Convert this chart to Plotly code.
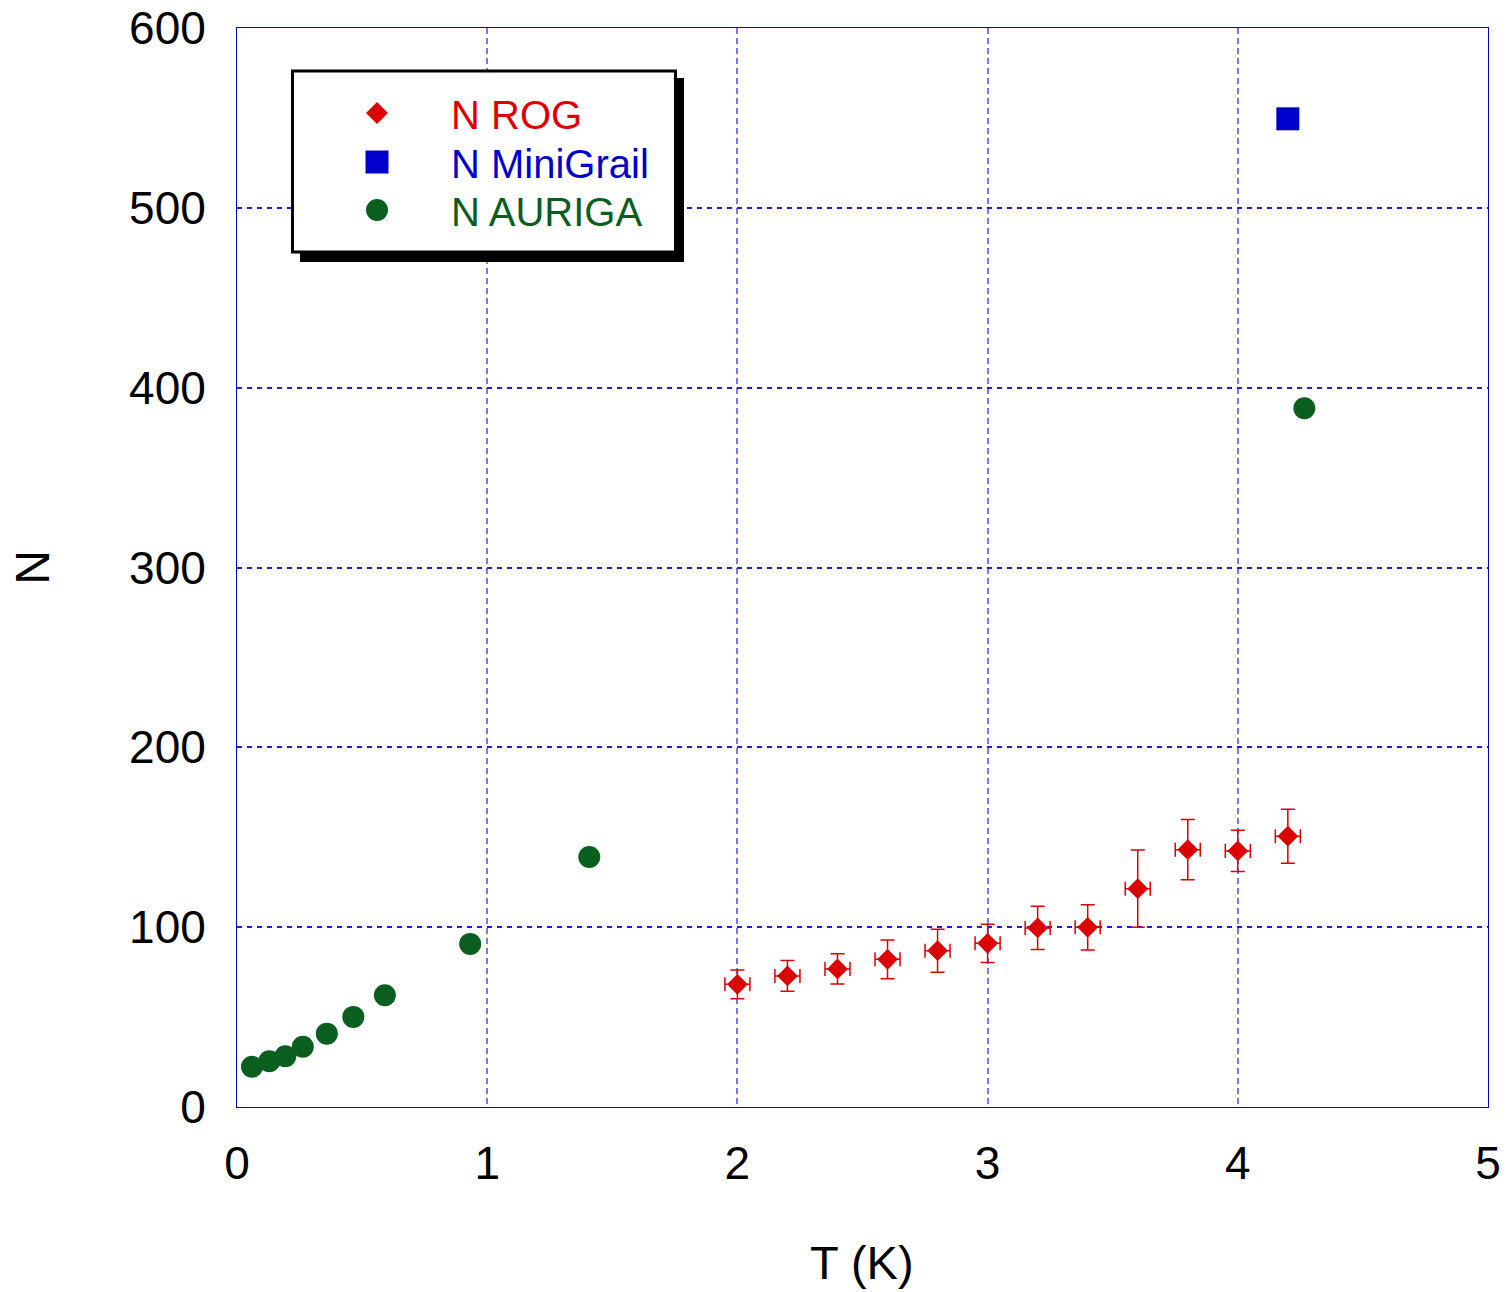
import plotly.graph_objects as go

# ROG data
rog_T = [2.0, 2.2, 2.4, 2.6, 2.8, 3.0, 3.2, 3.4, 3.6, 3.8, 4.0, 4.2]
rog_N = [68.2, 72.9, 76.8, 82.1, 86.9, 91.0, 99.6, 99.9, 121.4, 143.1, 142.4, 150.6]
rog_N_err = [8.0, 8.6, 8.4, 10.8, 12.0, 10.6, 12.0, 12.6, 21.5, 16.8, 11.5, 15.0]
rog_T_err = [0.05] * 12

# MiniGrail data
mg_T = [4.2]
mg_N = [549.5]

# AURIGA data
aur_T = [0.06, 0.129, 0.193, 0.263, 0.359, 0.465, 0.591, 0.932, 1.408, 4.266]
aur_N = [22.4, 25.4, 28.2, 33.5, 40.8, 50.1, 62.1, 90.7, 139.0, 388.6]

x_ticks = [0, 1, 2, 3, 4, 5]
y_ticks = [0, 100, 200, 300, 400, 500, 600]

series_names = ["N ROG", "N MiniGrail", "N AURIGA"]
x_title = "T (K)"
y_title = "N"

RED = "#dd0000"
BLUE = "#0000cc"
GREEN = "#0a5e1e"
FONT = "Liberation Sans, Arial, sans-serif"

# plot-area geometry (pixels) for the hand-drawn legend box
L, R, T, B = 237, 1488, 28, 1107
W, H = R - L, B - T


def px(xp):
    return (xp - L) / W


def py(yp):
    return (B - yp) / H


fig = go.Figure()
fig.add_trace(go.Scatter(
    x=rog_T, y=rog_N, mode="markers", name=series_names[0],
    marker=dict(symbol="diamond", size=16, color=RED),
    error_y=dict(type="data", array=rog_N_err, color=RED, thickness=1.5, width=7),
    error_x=dict(type="data", array=rog_T_err, color=RED, thickness=1.5, width=7),
))
fig.add_trace(go.Scatter(
    x=mg_T, y=mg_N, mode="markers", name=series_names[1],
    marker=dict(symbol="square", size=23, color=BLUE),
))
fig.add_trace(go.Scatter(
    x=aur_T, y=aur_N, mode="markers", name=series_names[2],
    marker=dict(symbol="circle", size=22, color=GREEN),
))

# ---- legend (box with drop shadow) ----
shapes = []
shapes.append(dict(type="rect", xref="paper", yref="paper",
                   x0=px(676), x1=px(684), y0=py(262), y1=py(78),
                   fillcolor="black", line=dict(width=0), layer="above"))
shapes.append(dict(type="rect", xref="paper", yref="paper",
                   x0=px(300), x1=px(684), y0=py(262), y1=py(252),
                   fillcolor="black", line=dict(width=0), layer="above"))
shapes.append(dict(type="rect", xref="paper", yref="paper",
                   x0=px(292.5), x1=px(675.5), y0=py(252), y1=py(71),
                   fillcolor="white", line=dict(color="black", width=3), layer="above"))
cx = 377
row_y = [113, 162, 210]
d = 11
shapes.append(dict(type="path", xref="paper", yref="paper",
                   path=f"M {px(cx - d)} {py(row_y[0])} L {px(cx)} {py(row_y[0] - d)} "
                        f"L {px(cx + d)} {py(row_y[0])} L {px(cx)} {py(row_y[0] + d)} Z",
                   fillcolor=RED, line=dict(width=0), layer="above"))
shapes.append(dict(type="rect", xref="paper", yref="paper",
                   x0=px(cx - 11.5), x1=px(cx + 11.5), y0=py(row_y[1] + 11.5), y1=py(row_y[1] - 11.5),
                   fillcolor=BLUE, line=dict(width=0), layer="above"))
shapes.append(dict(type="circle", xref="paper", yref="paper",
                   x0=px(cx - 11), x1=px(cx + 11), y0=py(row_y[2] + 11), y1=py(row_y[2] - 11),
                   fillcolor=GREEN, line=dict(width=0), layer="above"))

annotations = []
for name, col, yy in zip(series_names, [RED, BLUE, GREEN], row_y):
    annotations.append(dict(text=name, xref="paper", yref="paper",
                            x=px(449), y=py(yy + 2), xanchor="left", yanchor="middle",
                            showarrow=False, font=dict(size=40, color=col, family=FONT)))
# x-axis title
annotations.append(dict(text=x_title, xref="paper", yref="paper",
                        x=px(862), y=py(1291), xanchor="center", yanchor="bottom",
                        showarrow=False, font=dict(size=47, color="black", family=FONT)))

fig.update_layout(
    width=1508, height=1292,
    margin=dict(l=L, r=1508 - R, t=T, b=1292 - B, autoexpand=False),
    paper_bgcolor="white", plot_bgcolor="white",
    font=dict(family=FONT, color="black", size=46),
    showlegend=False,
    shapes=shapes,
    annotations=annotations,
    xaxis=dict(
        range=[0, 5], tickvals=x_ticks, ticktext=[str(v) for v in x_ticks],
        showline=True, linecolor=BLUE, linewidth=1, mirror=True,
        showgrid=True, gridcolor="#7a7aee", gridwidth=2, griddash="6px,4px",
        zeroline=False, automargin=True,
        ticks="outside", ticklen=16, tickcolor="rgba(0,0,0,0)",
        tickfont=dict(size=46),
    ),
    yaxis=dict(
        range=[0, 600], tickvals=y_ticks, ticktext=[str(v) for v in y_ticks],
        showline=True, linecolor=BLUE, linewidth=1, mirror=True,
        showgrid=True, gridcolor="#2020d0", gridwidth=1.5, griddash="5px,5px",
        zeroline=False, automargin=True,
        ticks="outside", ticklen=21, tickcolor="rgba(0,0,0,0)",
        tickfont=dict(size=46),
        title=dict(text=y_title, font=dict(size=48), standoff=64),
    ),
)

fig.write_html("out.html")
